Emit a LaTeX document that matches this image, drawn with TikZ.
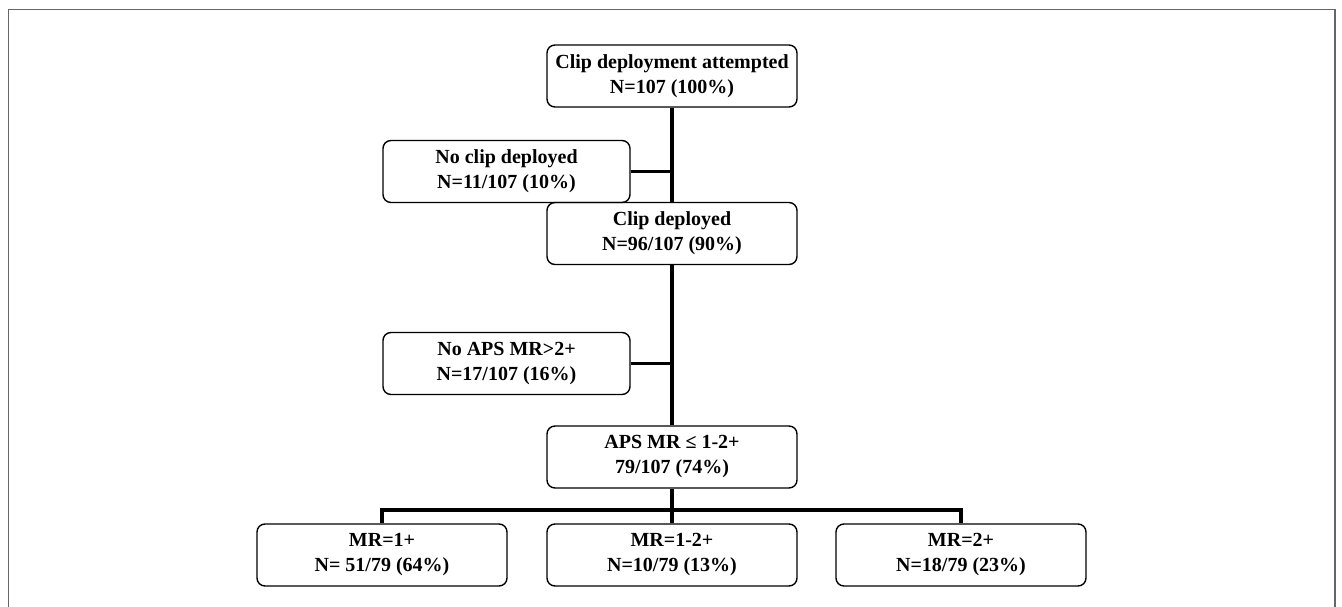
\documentclass[tikz,border=0pt]{standalone}
\usepackage{fontspec}
\setmainfont{Liberation Serif}
\usetikzlibrary{positioning, calc}

\tikzset{
    flowbox/.style={draw, line width=1.4pt, rounded corners=8pt, align=center,
        font=\fontsize{20}{25}\selectfont\bfseries, inner sep=0pt,
        minimum width=250pt, minimum height=62pt},
    sidebox/.style={flowbox, minimum width=247pt},
    link/.style={line width=3.6pt}
}

\begin{document}
\begin{tikzpicture}[x=1pt, y=-1pt]
\useasboundingbox (0,0) rectangle (1342,607);

% outer frame
\draw[black!60, line width=1.5pt] (8.5,607) -- (8.5,9.5) -- (1335,9.5) -- (1335,607);

% main column
\node[flowbox] (attempt) at (672,76) {Clip deployment attempted\\N=107 (100\%)};
\node[sidebox] (noclip) at (506.5,171.5) {No clip deployed\\N=11/107 (10\%)};
\node[flowbox] (deployed) at (672,233.5) {Clip deployed\\N=96/107 (90\%)};
\node[sidebox] (noaps) at (506.5,363.5) {No APS MR\textgreater2+\\N=17/107 (16\%)};
\node[flowbox] (aps) at (672,457) {APS MR ≤ 1-2+\\79/107 (74\%)};

% outcome row
\node[flowbox] (mrone) at (382,555) {MR=1+\\N= 51/79 (64\%)};
\node[flowbox] (mronetwo) at (672,555) {MR=1-2+\\N=10/79 (13\%)};
\node[flowbox] (mrtwo) at (961,555) {MR=2+\\N=18/79 (23\%)};

% connectors
\draw[link] (attempt) -- (deployed);
\draw[link] (deployed) -- (aps);
\draw[link] (noclip.east) -- (noclip.east -| attempt.south);
\draw[link] (noaps.east) -- (noaps.east -| deployed.south);

\coordinate (branch) at ($(aps.south)+(0,21)$);
\draw[link] (aps.south) -- (branch);
\draw[link, line join=miter] (mrone.north) |- (branch -| mrtwo.north) -- (mrtwo.north);
\draw[link] (branch) -- (mronetwo.north);

\end{tikzpicture}
\end{document}
